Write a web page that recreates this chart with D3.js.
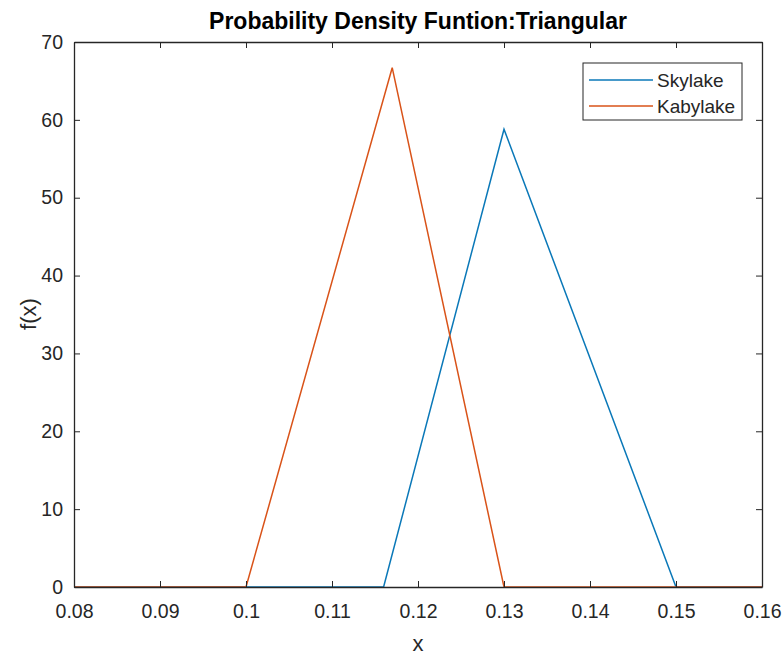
<!DOCTYPE html>
<html>
<head>
<meta charset="utf-8">
<script src="https://cdn.jsdelivr.net/npm/d3@7"></script>
<style>
  body { margin: 0; background: #fff; }
  text { font-family: "Liberation Sans", Arial, sans-serif; fill: #262626; }
</style>
</head>
<body>
<div id="content"></div>
<script>
// triangular pdf vertices
const skylake_x = [0.08, 0.116, 0.13, 0.15, 0.16];
const skylake_y = [0, 0, 58.8, 0, 0];
const kabylake_x = [0.08, 0.10, 0.117, 0.13, 0.16];
const kabylake_y = [0, 0, 66.7, 0, 0];
const x_ticks = [0.08, 0.09, 0.1, 0.11, 0.12, 0.13, 0.14, 0.15, 0.16];
const y_ticks = [0, 10, 20, 30, 40, 50, 60, 70];
const series_names = ["Skylake", "Kabylake"];
const series_colors = ["#0a78b8", "#D95319"];

const width = 783, height = 655;
const margin = {left: 74, right: 21, top: 42, bottom: 68};
const axis_color = "#262626";

var svg = d3.select("#content")
    .append("svg")
    .attr("width", width)
    .attr("height", height);

var x = d3.scaleLinear().domain([0.08, 0.16]).range([margin.left, width - margin.right]);
var y = d3.scaleLinear().domain([0, 70]).range([height - margin.bottom, margin.top]);

var line = d3.line().x(d => x(d[0])).y(d => y(d[1]));

var series = [
    d3.zip(skylake_x, skylake_y),
    d3.zip(kabylake_x, kabylake_y)
];

series.forEach(function (pts, i) {
    svg.append("path")
        .datum(pts)
        .attr("d", line)
        .attr("fill", "none")
        .attr("stroke", series_colors[i])
        .attr("stroke-width", 1.5);
});

// box with ticks on all four sides (pointing inwards)
var tick_len = 6;
var fmt = d3.format("");

var xb = d3.axisBottom(x).tickValues(x_ticks).tickSizeInner(-tick_len).tickSizeOuter(0)
    .tickPadding(17).tickFormat(d => fmt(+d.toFixed(2)));
var xt = d3.axisTop(x).tickValues(x_ticks).tickSizeInner(-tick_len).tickSizeOuter(0).tickFormat("");
var yl = d3.axisLeft(y).tickValues(y_ticks).tickSizeInner(-tick_len).tickSizeOuter(0).tickPadding(11);
var yr = d3.axisRight(y).tickValues(y_ticks).tickSizeInner(-tick_len).tickSizeOuter(0).tickFormat("");

function style_axis(g) {
    g.select(".domain").attr("stroke", axis_color).attr("stroke-width", 1.3);
    g.selectAll(".tick line").attr("stroke", axis_color).attr("stroke-width", 1);
    g.selectAll(".tick text").attr("font-size", 19.5).attr("fill", axis_color)
        .attr("font-family", "Liberation Sans, Arial, sans-serif");
}

svg.append("g").attr("transform", "translate(0," + y(0) + ")").call(xb).call(style_axis);
svg.append("g").attr("transform", "translate(0," + y(70) + ")").call(xt).call(style_axis);
svg.append("g").attr("transform", "translate(" + x(0.08) + ",0)").call(yl).call(style_axis);
svg.append("g").attr("transform", "translate(" + x(0.16) + ",0)").call(yr).call(style_axis);

// title and labels
svg.append("text")
    .attr("x", (x(0.08) + x(0.16)) / 2)
    .attr("y", 29)
    .attr("text-anchor", "middle")
    .attr("font-size", 23)
    .attr("font-weight", "bold")
    .style("fill", "#000")
    .text("Probability Density Funtion:Triangular");

svg.append("text")
    .attr("x", (x(0.08) + x(0.16)) / 2)
    .attr("y", 651)
    .attr("text-anchor", "middle")
    .attr("font-size", 22)
    .text("x");

svg.append("text")
    .attr("transform", "translate(36,314) rotate(-90)")
    .attr("text-anchor", "middle")
    .attr("font-size", 22)
    .text("f(x)");

// legend
var legend = svg.append("g").attr("transform", "translate(583,63)");
legend.append("rect")
    .attr("width", 159)
    .attr("height", 57)
    .attr("fill", "#fff")
    .attr("stroke", axis_color)
    .attr("stroke-width", 1);

series_names.forEach(function (name, i) {
    var row = legend.append("g").attr("transform", "translate(0," + (17 + i * 26) + ")");
    row.append("line")
        .attr("x1", 6).attr("x2", 70)
        .attr("stroke", series_colors[i])
        .attr("stroke-width", 1.5);
    row.append("text")
        .attr("x", 74)
        .attr("dy", "0.35em")
        .attr("font-size", 19)
        .text(name);
});
</script>
</body>
</html>
